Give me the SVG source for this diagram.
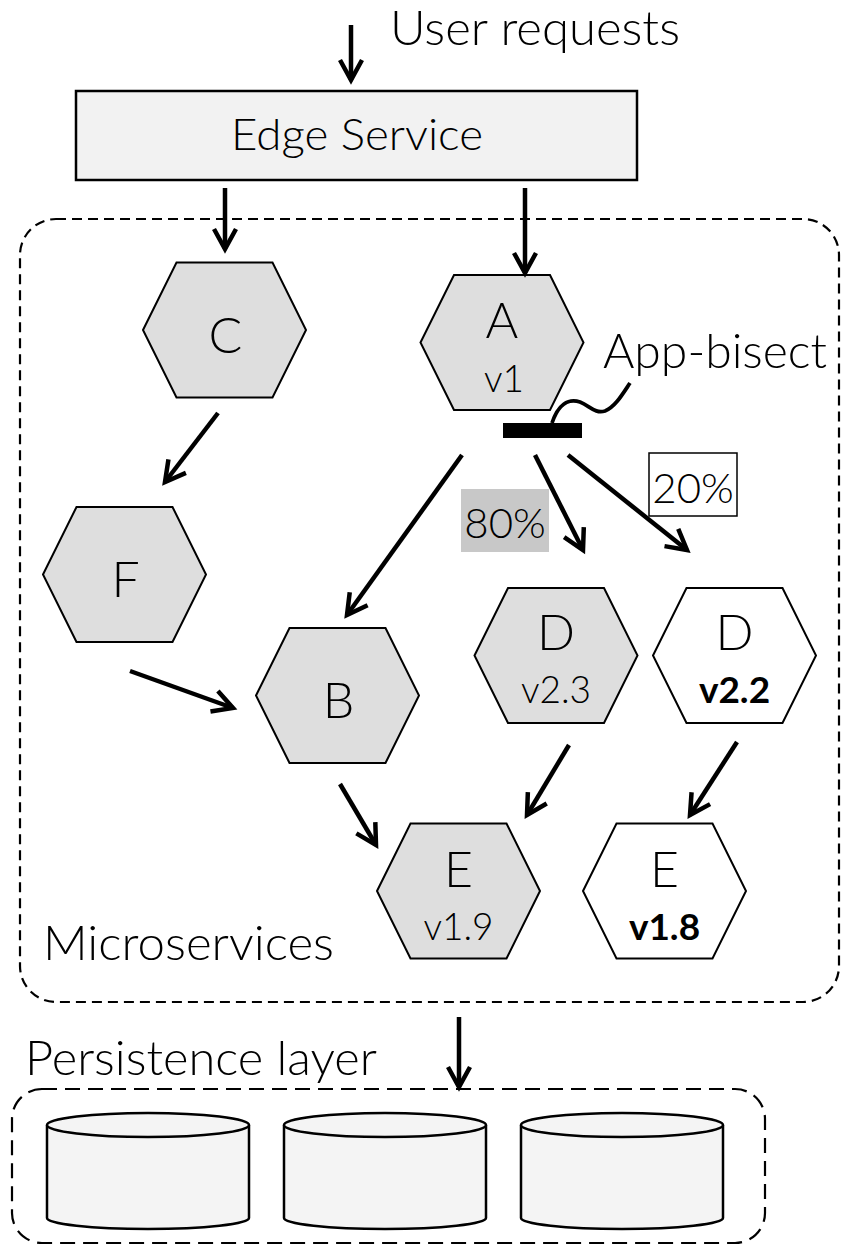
<svg xmlns="http://www.w3.org/2000/svg" width="841" height="1245" viewBox="0 0 841 1245">
  <style>
    text { font-family: Lato, "Open Sans", "Liberation Sans", sans-serif; font-weight: 300; fill: #000; }
    .big { font-size: 48px; }
    .letter { font-size: 50px; text-anchor: middle; }
    .ver { font-size: 37px; text-anchor: middle; }
    .verb { font-size: 37px; font-weight: 700; text-anchor: middle; }
    .pct { font-size: 42px; text-anchor: middle; }
    .hex { stroke: #000; stroke-width: 2; stroke-linejoin: miter; }
    .grey { fill: #dedede; }
    .white { fill: #fff; }
    .conn { stroke: #000; stroke-width: 4.5; fill: none; marker-end: url(#head); }
    .cyl { fill: #f4f4f4; stroke: #000; stroke-width: 2.5; }
  </style>
  <defs>
    <polygon id="hexShape" points="-81.5,0 -48,-67.5 48,-67.5 81.5,0 48,67.5 -48,67.5"/>
    <marker id="head" markerUnits="userSpaceOnUse" viewBox="-26 -16 32 32" markerWidth="32" markerHeight="32" refX="0" refY="0" orient="auto" overflow="visible">
      <path d="M-20,-11 L0,0 L-20,11" fill="none" stroke="#000" stroke-width="4.5" stroke-linejoin="miter"/>
    </marker>
  </defs>

  <!-- container outlines -->
  <g id="microservices">
    <rect x="20" y="219" width="819" height="783" rx="36" ry="36" fill="none" stroke="#000" stroke-width="2.2" stroke-dasharray="10 6"/>
    <text class="big" x="43" y="960" textLength="291" lengthAdjust="spacingAndGlyphs">Microservices</text>
  </g>
  <g id="persistence">
    <rect x="12" y="1089" width="753" height="154" rx="30" ry="30" fill="none" stroke="#000" stroke-width="2.2" stroke-dasharray="15 8"/>
    <text class="big" x="25" y="1075" textLength="352" lengthAdjust="spacingAndGlyphs">Persistence layer</text>
  </g>

  <!-- request label -->
  <g id="user-requests">
    <text class="big" x="390" y="45" textLength="290" lengthAdjust="spacingAndGlyphs">User requests</text>
  </g>

  <!-- edge service -->
  <g id="edge-service">
    <rect x="76" y="91" width="561" height="89" fill="#f2f2f2" stroke="#000" stroke-width="2.5"/>
    <text x="357" y="150" text-anchor="middle" textLength="252" lengthAdjust="spacingAndGlyphs" style="font-size:44px">Edge Service</text>
  </g>

  <!-- services -->
  <g id="svc-c" transform="translate(224.5,330)">
    <use href="#hexShape" class="hex grey"/>
    <text class="letter" x="1" y="23">C</text>
  </g>
  <g id="svc-a" transform="translate(502,342.5)">
    <use href="#hexShape" class="hex grey"/>
    <text class="letter" x="0" y="-4.5">A</text>
    <text class="ver" x="2" y="49.5">v1</text>
  </g>
  <g id="svc-f" transform="translate(124.5,574.5)">
    <use href="#hexShape" class="hex grey"/>
    <text class="letter" x="1" y="22">F</text>
  </g>
  <g id="svc-b" transform="translate(337.5,695.5)">
    <use href="#hexShape" class="hex grey"/>
    <text class="letter" x="1" y="22">B</text>
  </g>
  <g id="svc-d23" transform="translate(556,655.5)">
    <use href="#hexShape" class="hex grey"/>
    <text class="letter" x="0" y="-5.5">D</text>
    <text class="ver" x="0" y="47.5">v2.3</text>
  </g>
  <g id="svc-d22" transform="translate(734.5,655.5)">
    <use href="#hexShape" class="hex white"/>
    <text class="letter" x="0" y="-5.5">D</text>
    <text class="verb" x="0" y="47.5">v2.2</text>
  </g>
  <g id="svc-e19" transform="translate(458.5,891)">
    <use href="#hexShape" class="hex grey"/>
    <text class="letter" x="0" y="-4">E</text>
    <text class="ver" x="0" y="49">v1.9</text>
  </g>
  <g id="svc-e18" transform="translate(664.5,891)">
    <use href="#hexShape" class="hex white"/>
    <text class="letter" x="0" y="-4">E</text>
    <text class="verb" x="0" y="49">v1.8</text>
  </g>

  <!-- traffic splitter -->
  <g id="app-bisect">
    <rect x="503" y="423" width="79" height="15" fill="#000"/>
    <path d="M552,423 C558,405 568,398 580,402 C590,406 595,414 605,411 C615,407 622,395 630,383" fill="none" stroke="#000" stroke-width="3.8"/>
    <text class="big" x="603" y="368" textLength="224" lengthAdjust="spacingAndGlyphs">App-bisect</text>
  </g>

  <!-- split weights -->
  <g id="weight-80">
    <rect x="461" y="489" width="88" height="63" fill="#c8c8c8"/>
    <text class="pct" x="505" y="538">80%</text>
  </g>
  <g id="weight-20">
    <rect x="649" y="453" width="88" height="63" fill="#fff" stroke="#000" stroke-width="1.5"/>
    <text class="pct" x="693" y="503">20%</text>
  </g>

  <!-- databases -->
  <g id="db-1">
    <path class="cyl" d="M47,1125 V1218 A101,11 0 0 0 249,1218 V1125"/>
    <ellipse class="cyl" cx="148" cy="1125" rx="101" ry="12"/>
  </g>
  <g id="db-2">
    <path class="cyl" d="M284,1125 V1218 A101,11 0 0 0 486,1218 V1125"/>
    <ellipse class="cyl" cx="385" cy="1125" rx="101" ry="12"/>
  </g>
  <g id="db-3">
    <path class="cyl" d="M521,1125 V1218 A101,11 0 0 0 723,1218 V1125"/>
    <ellipse class="cyl" cx="622" cy="1125" rx="101" ry="12"/>
  </g>

  <!-- connectors -->
  <g id="connectors">
    <line class="conn" x1="351" y1="25" x2="351" y2="80"/>
    <line class="conn" x1="225" y1="188" x2="225" y2="249"/>
    <line class="conn" x1="525" y1="188" x2="525" y2="273"/>
    <line class="conn" x1="218" y1="413" x2="165" y2="482"/>
    <line class="conn" x1="462" y1="455" x2="347" y2="615"/>
    <line class="conn" x1="130" y1="671" x2="233" y2="708"/>
    <line class="conn" x1="535" y1="455" x2="583" y2="550"/>
    <line class="conn" x1="568" y1="455" x2="687" y2="550"/>
    <line class="conn" x1="340" y1="784" x2="376" y2="845"/>
    <line class="conn" x1="569" y1="745" x2="527" y2="815"/>
    <line class="conn" x1="737" y1="742" x2="690" y2="815"/>
    <line class="conn" x1="459" y1="1017" x2="459" y2="1087"/>
  </g>
</svg>
